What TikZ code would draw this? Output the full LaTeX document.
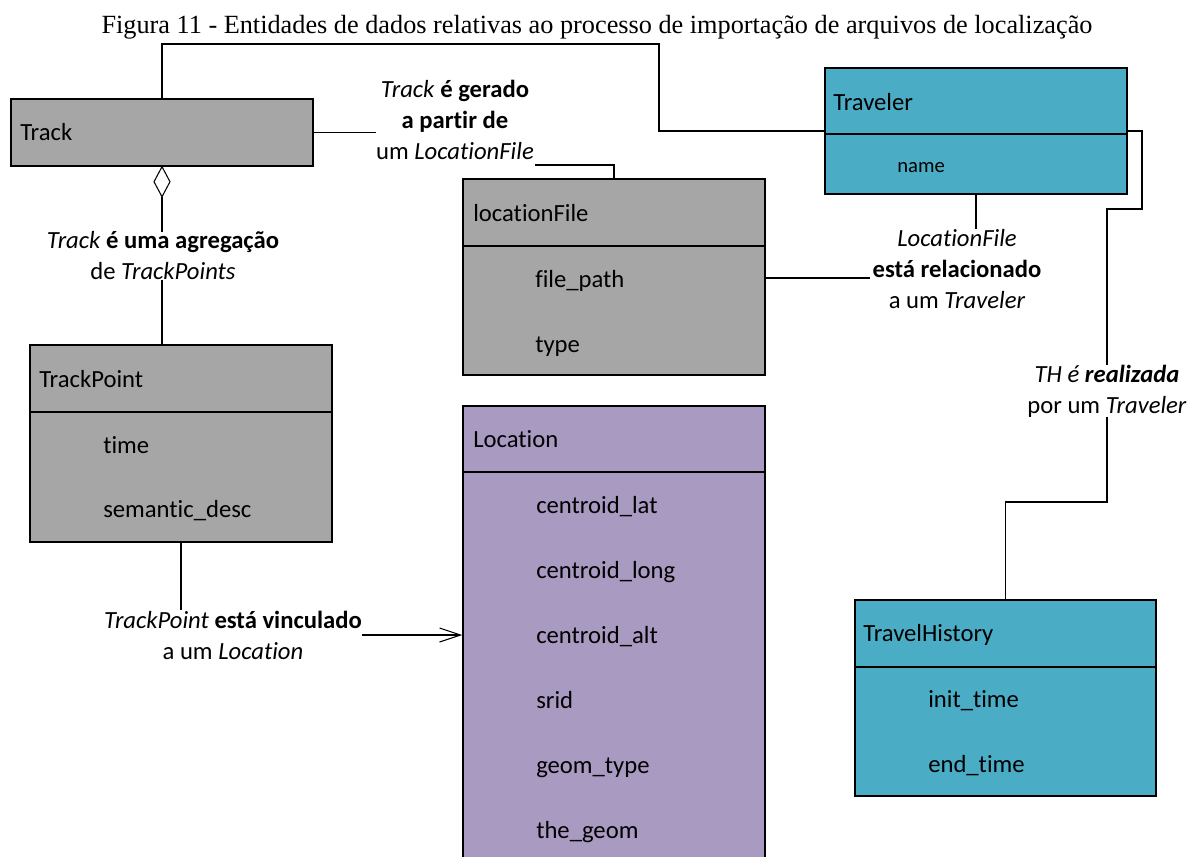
\documentclass[tikz,border=0pt]{standalone}
\usepackage{fontspec}
\setmainfont{Liberation Serif}
\newfontfamily\calfont[RawFeature={-liga;-clig;-calt;-dlig}]{Carlito}
\usetikzlibrary{fit,arrows.meta}
\definecolor{entgray}{HTML}{A6A6A6}
\definecolor{entteal}{HTML}{4BACC6}
\definecolor{entpurple}{HTML}{A99AC1}
\begin{document}
\begin{tikzpicture}[x=0.75pt,y=-0.75pt,
  ent/.style={draw=black, line width=1.1pt, inner sep=0pt},
  grayent/.style={ent, fill=entgray},
  tealent/.style={ent, fill=entteal},
  purpleent/.style={ent, fill=entpurple},
  div/.style={line width=1.1pt},
  etext/.style={anchor=base west, inner sep=0pt, font=\calfont\fontsize{18.5}{22}\selectfont},
  esmall/.style={anchor=base west, inner sep=0pt, font=\calfont\fontsize{15.5}{19}\selectfont},
  lbl/.style={align=center, inner sep=0pt, font=\calfont\fontsize{18.5}{23.25}\selectfont},
  conn/.style={line width=0.8pt},
  barb/.style={-{Straight Barb[length=15.75pt,width=10.5pt]}}
]
\useasboundingbox (0,0) rectangle (1200,857);
\fill[white] (0,0) rectangle (1200,857);
\clip (0,0) rectangle (1200,857);

% caption
\node[anchor=base, inner sep=0pt, font=\fontsize{19.7}{24}\selectfont] (caption) at (597,33)
  {Figura 11 - Entidades de dados relativas ao processo de importação de arquivos de localização};

% entities
\node[grayent, fit={(11,99) (313,166)}] (track) {};
\node[etext] (trackT) at (20,140) {Track};

\node[grayent, fit={(463,179) (765,375)}] (locfile) {};
\draw[div] (locfile.west |- 0,246) -- (locfile.east |- 0,246);
\node[etext] (locfileT) at (473,221) {locationFile};
\node[etext] (locfileA) at (535,287) {file\_path};
\node[etext] (locfileB) at (535,352) {type};

\node[tealent, fit={(825,68) (1127,194)}] (traveler) {};
\draw[div] (traveler.west |- 0,134) -- (traveler.east |- 0,134);
\node[etext] (travelerT) at (833,110) {Traveler};
\node[esmall] (travelerA) at (897,172) {name};

\node[grayent, fit={(30,345) (332,542)}] (trackpoint) {};
\draw[div] (trackpoint.west |- 0,412) -- (trackpoint.east |- 0,412);
\node[etext] (trackpointT) at (39,387) {TrackPoint};
\node[etext] (trackpointA) at (103,453) {time};
\node[etext] (trackpointB) at (103,517) {semantic\_desc};

\node[purpleent, fit={(463,406) (765,875)}] (location) {};
\draw[div] (location.west |- 0,472) -- (location.east |- 0,472);
\node[etext] (locationT) at (473,447) {Location};
\node[etext] (locationA) at (536,513) {centroid\_lat};
\node[etext] (locationB) at (536,578) {centroid\_long};
\node[etext] (locationC) at (536,643) {centroid\_alt};
\node[etext] (locationD) at (536,708) {srid};
\node[etext] (locationE) at (536,773) {geom\_type};
\node[etext] (locationF) at (536,838) {the\_geom};

\node[tealent, fit={(855,600) (1156,796)}] (travelhist) {};
\draw[div] (travelhist.west |- 0,667) -- (travelhist.east |- 0,667);
\node[etext] (travelhistT) at (863,641) {TravelHistory};
\node[etext] (travelhistA) at (928,707) {init\_time};
\node[etext] (travelhistB) at (928,772) {end\_time};

% relationship labels
\node[lbl] (lblgen) at (455,120) {\textit{Track} \textbf{é gerado}\\\textbf{a partir de}\\um \textit{LocationFile}};
\node[lbl] (lblagg) at (163,256) {\textit{Track} \textbf{é uma agregação}\\de \textit{TrackPoints}};
\node[lbl] (lblvin) at (233,635) {\textit{TrackPoint} \textbf{está vinculado}\\a um \textit{Location}};
\node[lbl] (lblrel) at (957,269) {\textit{LocationFile}\\\textbf{está relacionado}\\a um \textit{Traveler}};
\node[lbl] (lblth) at (1107,391) {\textit{TH é \textbf{realizada}}\\por um \textit{Traveler}};

% connectors
\coordinate (topbend) at (659,44);
\draw[conn] (track.north) |- (topbend) |- (traveler.west);

\draw[conn] (track.east) -- (track.east -| lblgen.west);
\coordinate (genfoot) at (535,165);
\draw[conn] (locfile.north) |- (genfoot);

\draw[conn, fill=white] (track.south) -- ++(-8,15) coordinate (dmleft) -- ++(8,15) coordinate (dmbottom) -- ++(8,-15) -- cycle;
\draw[conn] (dmbottom) -- (dmbottom |- lblagg.north);
\draw[conn] (lblagg.south -| track.south) -- (track.south |- trackpoint.north);

\draw[conn] (trackpoint.south) -- (trackpoint.south |- lblvin.north);
\draw[conn, barb] (lblvin.east) -- (lblvin.east -| location.west);

\coordinate (relfoot) at (870,278);
\draw[conn] (relfoot -| locfile.east) -- (relfoot);
\draw[conn] (traveler.south) -- (traveler.south |- lblrel.north);

\coordinate (threar) at (1142,209);
\draw[conn] (traveler.east) -| (threar) -| (lblth.north);
\coordinate (thstep) at (1107,502);
\draw[conn] (lblth.south) -- (thstep) -| (travelhist.north);
\end{tikzpicture}
\end{document}
